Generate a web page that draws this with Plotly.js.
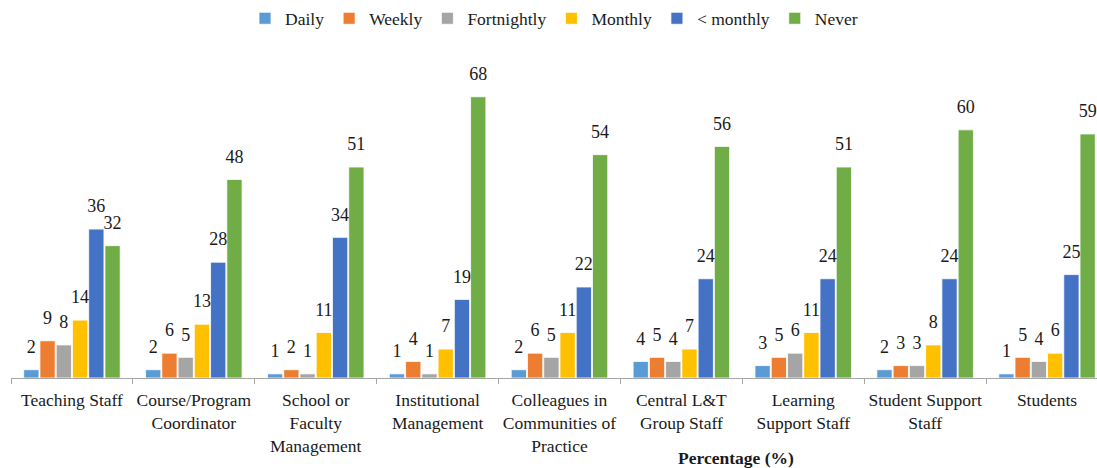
<!DOCTYPE html>
<html>
<head>
<meta charset="utf-8">
<script src="https://cdn.plot.ly/plotly-3.0.1.min.js"></script>
<style>html,body{margin:0;padding:0;background:#fff;}#chart{width:1097px;height:468px;}</style>
</head>
<body>
<div id="chart"></div>
<script>
const categories = [
  "Teaching Staff",
  "Course/Program<br>Coordinator",
  "School or<br>Faculty<br>Management",
  "Institutional<br>Management",
  "Colleagues in<br>Communities of<br>Practice",
  "Central L&T<br>Group Staff",
  "Learning<br>Support Staff",
  "Student Support<br>Staff",
  "Students"
];
const seriesNames = ["Daily", "Weekly", "Fortnightly", "Monthly", "< monthly", "Never"];
const daily       = [2, 2, 1, 1, 2, 4, 3, 2, 1];
const weekly      = [9, 6, 2, 4, 6, 5, 5, 3, 5];
const fortnightly = [8, 5, 1, 1, 5, 4, 6, 3, 4];
const monthly     = [14, 13, 11, 7, 11, 7, 11, 8, 6];
const lessMonthly = [36, 28, 34, 19, 22, 24, 24, 24, 25];
const never       = [32, 48, 51, 68, 54, 56, 51, 60, 59];
const seriesValues = [daily, weekly, fortnightly, monthly, lessMonthly, never];
const colors = ["#5B9BD5", "#ED7D31", "#A5A5A5", "#FFC000", "#4472C4", "#70AD47"];

const font = "Liberation Serif, Times New Roman, serif";

const barTraces = seriesValues.map((vals, i) => ({
  type: "bar",
  name: seriesNames[i],
  x: categories,
  y: vals,
  marker: {color: colors[i], line: {color: "#ffffff", width: 0.8}},
  hoverinfo: "skip"
}));

const labelTraces = seriesValues.map((vals, i) => ({
  type: "scatter",
  mode: "markers+text",
  name: seriesNames[i] + " labels",
  x: categories,
  y: vals,
  text: vals.map(String),
  textposition: "top center",
  cliponaxis: false,
  showlegend: false,
  marker: {size: 18, opacity: 0, color: colors[i]},
  textfont: {family: font, size: 18, color: "#1a1a1a"},
  hoverinfo: "skip"
}));

const layout = {
  width: 1097,
  height: 468,
  margin: {l: 11, r: 0, t: 60, b: 90},
  paper_bgcolor: "#ffffff",
  plot_bgcolor: "#ffffff",
  barmode: "group",
  bargap: 0.2,
  bargroupgap: 0.06,
  scattermode: "group",
  scattergap: 0.2,
  font: {family: font, size: 16, color: "#1a1a1a"},
  showlegend: true,
  legend: {
    orientation: "h",
    x: 0.5, xanchor: "center",
    y: 1.138, yanchor: "middle",
    font: {family: font, size: 17.5, color: "#1a1a1a"},
    itemwidth: 30,
    traceorder: "normal"
  },
  xaxis: {
    type: "category",
    range: [-0.5, 8.41],
    tickangle: 0,
    automargin: false,
    showline: true,
    linecolor: "#a6a6a6",
    linewidth: 1,
    ticks: "outside",
    tickson: "boundaries",
    ticklen: 5,
    ticklabelstandoff: 6,
    tickcolor: "#a6a6a6",
    tickfont: {family: font, size: 17.5, color: "#1a1a1a"},
    showgrid: false,
    zeroline: false,
    fixedrange: true
  },
  yaxis: {
    range: [0, 76.4],
    showticklabels: false,
    showgrid: false,
    zeroline: false,
    showline: false,
    ticks: "",
    fixedrange: true
  },
  annotations: [{
    text: "<b>Percentage (%)</b>",
    xref: "paper", yref: "paper",
    x: 0.668, y: -0.252,
    xanchor: "center", yanchor: "middle",
    showarrow: false,
    font: {family: font, size: 17.5, color: "#1a1a1a"}
  }]
};

Plotly.newPlot("chart", barTraces.concat(labelTraces), layout, {displayModeBar: false, staticPlot: true});
</script>
</body>
</html>
